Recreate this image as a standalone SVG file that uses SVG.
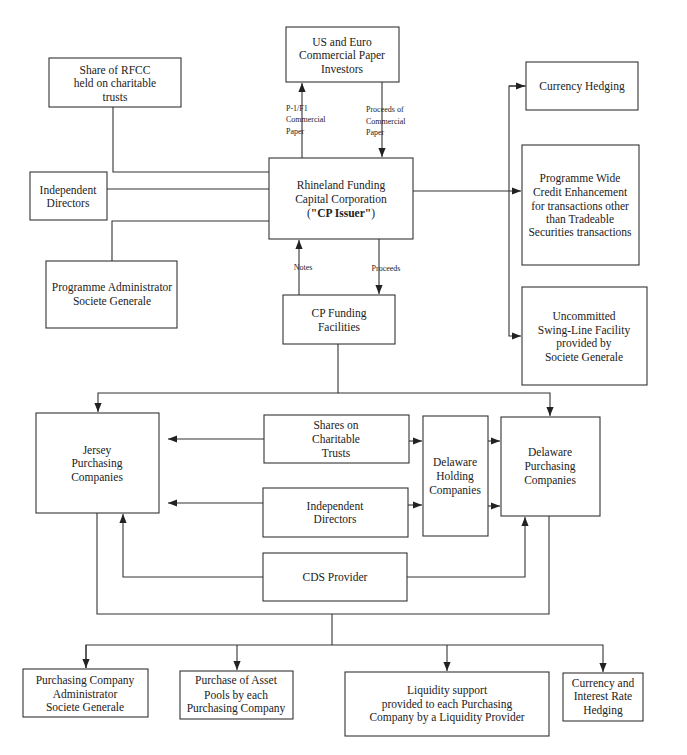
<svg xmlns="http://www.w3.org/2000/svg" width="687" height="755" viewBox="0 0 687 755">
<style>
.box{fill:#fff;stroke:#333;stroke-width:1.1}
.t{font-family:"Liberation Serif","Times New Roman",serif;font-size:11.5px;fill:#222;text-anchor:middle}
.s{font-family:"Liberation Serif","Times New Roman",serif;font-size:8px;fill:#222}
.c{fill:none;stroke:#333;stroke-width:1.1}
</style>
<defs>
<marker id="ah" viewBox="0 0 10 10" refX="10" refY="5" markerWidth="9" markerHeight="9" markerUnits="userSpaceOnUse" orient="auto">
<path d="M0,1 L10,5 L0,9 Z" fill="#222"/>
</marker>
</defs>
<rect width="687" height="755" fill="#fff"/>
<g id="connectors">
<line class="c" x1="302" y1="158" x2="302" y2="83" marker-end="url(#ah)"/>
<line class="c" x1="382" y1="82" x2="382" y2="157" marker-end="url(#ah)"/>
<polyline class="c" points="113,107 113,172 269,172"/>
<line class="c" x1="107" y1="189" x2="269" y2="189"/>
<polyline class="c" points="269,221 112,221 112,261"/>
<line class="c" x1="413" y1="191" x2="521" y2="191" marker-end="url(#ah)"/>
<polyline class="c" points="526,86 509,86 509,336 521,336" marker-end="url(#ah)"/>
<line class="c" x1="509" y1="86" x2="525" y2="86" marker-end="url(#ah)"/>
<line class="c" x1="379" y1="239" x2="379" y2="294" marker-end="url(#ah)"/>
<line class="c" x1="299" y1="295" x2="299" y2="240" marker-end="url(#ah)"/>
<polyline class="c" points="338,344 338,393 98,393 98,412" marker-end="url(#ah)"/>
<polyline class="c" points="338,393 550,393 550,416" marker-end="url(#ah)"/>
<line class="c" x1="264" y1="439" x2="168" y2="439" marker-end="url(#ah)"/>
<line class="c" x1="263" y1="503" x2="168" y2="503" marker-end="url(#ah)"/>
<polyline class="c" points="263,577 123,577 123,514" marker-end="url(#ah)"/>
<polyline class="c" points="407,577 525,577 525,517" marker-end="url(#ah)"/>
<line class="c" x1="409" y1="441" x2="422" y2="441" marker-end="url(#ah)"/>
<line class="c" x1="408" y1="505" x2="422" y2="505" marker-end="url(#ah)"/>
<line class="c" x1="488" y1="441" x2="500" y2="441" marker-end="url(#ah)"/>
<line class="c" x1="488" y1="506" x2="500" y2="506" marker-end="url(#ah)"/>
<polyline class="c" points="97,513 97,614 549,614 549,516"/>
<polyline class="c" points="332,614 332,645"/>
<polyline class="c" points="86,668 86,645 603,645 603,672" marker-end="url(#ah)"/>
<line class="c" x1="86" y1="645" x2="86" y2="668" marker-end="url(#ah)"/>
<line class="c" x1="237" y1="645" x2="237" y2="670" marker-end="url(#ah)"/>
<line class="c" x1="447" y1="645" x2="447" y2="671" marker-end="url(#ah)"/>
<text class="s" x="286" y="111">P-1/F1</text>
<text class="s" x="286" y="122">Commercial</text>
<text class="s" x="286" y="134">Paper</text>
<text class="s" x="366" y="112">Proceeds of</text>
<text class="s" x="366" y="124">Commercial</text>
<text class="s" x="366" y="135">Paper</text>
<text class="s" x="303" y="270" text-anchor="middle">Notes</text>
<text class="s" x="386" y="271" text-anchor="middle">Proceeds</text>
</g>
<g id="investors">
<rect class="box" x="286" y="27" width="113" height="55"/>
<text class="t" x="342" y="46">US and Euro</text>
<text class="t" x="342" y="59">Commercial Paper</text>
<text class="t" x="342" y="73">Investors</text>
</g>
<g id="share-rfcc">
<rect class="box" x="49" y="58" width="132" height="49"/>
<text class="t" x="115" y="74">Share of RFCC</text>
<text class="t" x="115" y="87">held on charitable</text>
<text class="t" x="115" y="101">trusts</text>
</g>
<g id="independent-directors-top">
<rect class="box" x="30" y="172" width="77" height="48"/>
<text class="t" x="68" y="194">Independent</text>
<text class="t" x="68" y="207">Directors</text>
</g>
<g id="rhineland">
<rect class="box" x="269" y="158" width="144" height="81"/>
<text class="t" x="341" y="189">Rhineland Funding</text>
<text class="t" x="341" y="203">Capital Corporation</text>
<text class="t" x="341" y="217">(<tspan font-weight="bold">"CP Issuer"</tspan>)</text>
</g>
<g id="programme-administrator">
<rect class="box" x="46" y="261" width="131" height="67"/>
<text class="t" x="112" y="291">Programme Administrator</text>
<text class="t" x="112" y="305">Societe Generale</text>
</g>
<g id="currency-hedging">
<rect class="box" x="526" y="62" width="112" height="48"/>
<text class="t" x="582" y="90">Currency Hedging</text>
</g>
<g id="programme-wide">
<rect class="box" x="522" y="145" width="117" height="120"/>
<text class="t" x="580" y="182">Programme Wide</text>
<text class="t" x="580" y="196">Credit Enhancement</text>
<text class="t" x="580" y="210">for transactions other</text>
<text class="t" x="580" y="223">than Tradeable</text>
<text class="t" x="580" y="236">Securities transactions</text>
</g>
<g id="swing-line">
<rect class="box" x="522" y="287" width="125" height="98"/>
<text class="t" x="584" y="320">Uncommitted</text>
<text class="t" x="584" y="334">Swing-Line Facility</text>
<text class="t" x="584" y="347">provided by</text>
<text class="t" x="584" y="361">Societe Generale</text>
</g>
<g id="cp-funding">
<rect class="box" x="283" y="295" width="112" height="49"/>
<text class="t" x="339" y="317">CP Funding</text>
<text class="t" x="339" y="331">Facilities</text>
</g>
<g id="jersey">
<rect class="box" x="36" y="413" width="123" height="100"/>
<text class="t" x="97" y="454">Jersey</text>
<text class="t" x="97" y="467">Purchasing</text>
<text class="t" x="97" y="481">Companies</text>
</g>
<g id="shares-trusts">
<rect class="box" x="264" y="415" width="145" height="48"/>
<text class="t" x="336" y="429">Shares on</text>
<text class="t" x="336" y="443">Charitable</text>
<text class="t" x="336" y="457">Trusts</text>
</g>
<g id="independent-directors-mid">
<rect class="box" x="263" y="488" width="145" height="49"/>
<text class="t" x="335" y="510">Independent</text>
<text class="t" x="335" y="523">Directors</text>
</g>
<g id="cds-provider">
<rect class="box" x="263" y="553" width="144" height="48"/>
<text class="t" x="335" y="581">CDS Provider</text>
</g>
<g id="delaware-holding">
<rect class="box" x="423" y="416" width="65" height="120"/>
<text class="t" x="455" y="466">Delaware</text>
<text class="t" x="455" y="480">Holding</text>
<text class="t" x="455" y="494">Companies</text>
</g>
<g id="delaware-purchasing">
<rect class="box" x="501" y="417" width="99" height="99"/>
<text class="t" x="550" y="456">Delaware</text>
<text class="t" x="550" y="470">Purchasing</text>
<text class="t" x="550" y="484">Companies</text>
</g>
<g id="pc-administrator">
<rect class="box" x="23" y="669" width="125" height="48"/>
<text class="t" x="85" y="684">Purchasing Company</text>
<text class="t" x="85" y="698">Administrator</text>
<text class="t" x="85" y="711">Societe Generale</text>
</g>
<g id="asset-pools">
<rect class="box" x="180" y="671" width="113" height="48"/>
<text class="t" x="236" y="684">Purchase of Asset</text>
<text class="t" x="236" y="699">Pools by each</text>
<text class="t" x="236" y="712">Purchasing Company</text>
</g>
<g id="liquidity">
<rect class="box" x="345" y="672" width="204" height="64"/>
<text class="t" x="447" y="694">Liquidity support</text>
<text class="t" x="447" y="708">provided to each Purchasing</text>
<text class="t" x="447" y="721">Company by a Liquidity Provider</text>
</g>
<g id="currency-interest">
<rect class="box" x="563" y="673" width="80" height="48"/>
<text class="t" x="603" y="687">Currency and</text>
<text class="t" x="603" y="700">Interest Rate</text>
<text class="t" x="603" y="714">Hedging</text>
</g>
</svg>
